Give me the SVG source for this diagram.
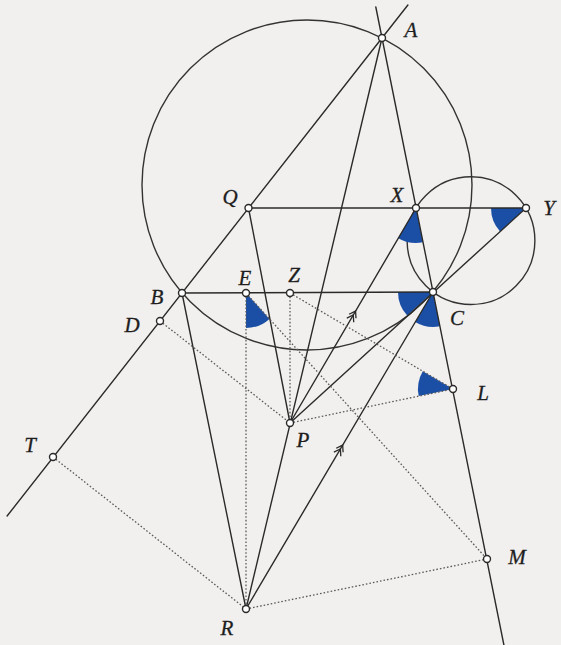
<svg xmlns="http://www.w3.org/2000/svg" width="561" height="645" viewBox="0 0 561 645">
<style>
.ln{stroke:#2a2a2a;stroke-width:1.4;fill:none;stroke-linecap:round}
.dt{stroke:#5a5a5a;stroke-width:1.3;fill:none;stroke-dasharray:1.6 2}
.ci{stroke:#333;stroke-width:1.4;fill:none}
.wg{fill:#1b4fa6;stroke:none}
.pt{fill:#ffffff;stroke:#2a2a2a;stroke-width:1.4}
.lb{font-family:"Liberation Serif","DejaVu Serif",serif;font-style:italic;font-size:21px;fill:#1e1e1e;text-anchor:middle;stroke:#1e1e1e;stroke-width:0.3}
.mk{stroke:#2a2a2a;stroke-width:1.3;fill:none}
</style>
<defs>
<path id="dchev" d="M-6,-4 L0,0 L-6,4 M-1.5,-4 L4.5,0 L-1.5,4"/>
</defs>
<rect width="561" height="645" fill="#f2f0ee"/>
<g id="circles">
<circle class="ci" cx="307" cy="185" r="165"/>
<circle class="ci" cx="471" cy="240.6" r="63.9"/>
</g>
<g id="wedges">
<path class="wg" d="M416,208 L422.9,242.3 A35,35 0 0 1 398.3,238.2 Z"/>
<path class="wg" d="M526,208 L500.1,231.5 A35,35 0 0 1 491,208 Z"/>
<path class="wg" d="M433,292 L407.2,315.6 A35,35 0 0 1 398,292 Z"/>
<path class="wg" d="M433,292 L439.9,326.3 A35,35 0 0 1 415.2,322.1 Z"/>
<path class="wg" d="M246,293 L269.5,318.9 A35,35 0 0 1 246,328 Z"/>
<path class="wg" d="M453,389 L418.7,396.1 A35,35 0 0 1 422.8,371.2 Z"/>
</g>
<g id="connectors">
<line class="ln" x1="407.9" y1="5" x2="7.1" y2="516"/>
<line class="ln" x1="375.8" y1="7" x2="503.9" y2="645"/>
<line class="ln" x1="248.5" y1="208" x2="526" y2="208"/>
<line class="ln" x1="182" y1="293" x2="433" y2="292"/>
<line class="ln" x1="382" y1="38" x2="246" y2="609"/>
<line class="ln" x1="290" y1="423" x2="248.5" y2="208"/>
<line class="ln" x1="290" y1="423" x2="416" y2="208"/>
<line class="ln" x1="290" y1="423" x2="526" y2="208"/>
<line class="ln" x1="246" y1="609" x2="182" y2="293"/>
<line class="ln" x1="246" y1="609" x2="433" y2="292"/>
<line class="dt" x1="160" y1="321" x2="290" y2="423"/>
<line class="dt" x1="290" y1="293" x2="290" y2="423"/>
<line class="dt" x1="290" y1="293" x2="453" y2="389"/>
<line class="dt" x1="290" y1="423" x2="453" y2="389"/>
<line class="dt" x1="246" y1="293" x2="246" y2="609"/>
<line class="dt" x1="246" y1="293" x2="487" y2="559"/>
<line class="dt" x1="53" y1="457" x2="246" y2="609"/>
<line class="dt" x1="246" y1="609" x2="487" y2="559"/>
<use href="#dchev" class="mk" transform="translate(353.3,315) rotate(-59.6)"/>
<use href="#dchev" class="mk" transform="translate(340.4,449) rotate(-59.5)"/>
</g>
<g id="A"><circle class="pt" cx="382" cy="38" r="3.5"/><text class="lb" x="411" y="37">A</text></g>
<g id="Q"><circle class="pt" cx="248.5" cy="208" r="3.5"/><text class="lb" x="230" y="204">Q</text></g>
<g id="X"><circle class="pt" cx="416" cy="208" r="3.5"/><text class="lb" x="397" y="202">X</text></g>
<g id="Y"><circle class="pt" cx="526" cy="208" r="3.5"/><text class="lb" x="549" y="215">Y</text></g>
<g id="B"><circle class="pt" cx="182" cy="293" r="3.5"/><text class="lb" x="157" y="304">B</text></g>
<g id="E"><circle class="pt" cx="246" cy="293" r="3.5"/><text class="lb" x="245" y="285">E</text></g>
<g id="Z"><circle class="pt" cx="290" cy="293" r="3.5"/><text class="lb" x="294" y="282">Z</text></g>
<g id="C"><circle class="pt" cx="433" cy="292" r="3.5"/><text class="lb" x="457" y="325">C</text></g>
<g id="D"><circle class="pt" cx="160" cy="321" r="3.5"/><text class="lb" x="132" y="332">D</text></g>
<g id="L"><circle class="pt" cx="453" cy="389" r="3.5"/><text class="lb" x="483" y="400">L</text></g>
<g id="P"><circle class="pt" cx="290" cy="423" r="3.5"/><text class="lb" x="303" y="447">P</text></g>
<g id="T"><circle class="pt" cx="53" cy="457" r="3.5"/><text class="lb" x="30" y="452">T</text></g>
<g id="M"><circle class="pt" cx="487" cy="559" r="3.5"/><text class="lb" x="517" y="564">M</text></g>
<g id="R"><circle class="pt" cx="246" cy="609" r="3.5"/><text class="lb" x="227" y="635">R</text></g>
</svg>
